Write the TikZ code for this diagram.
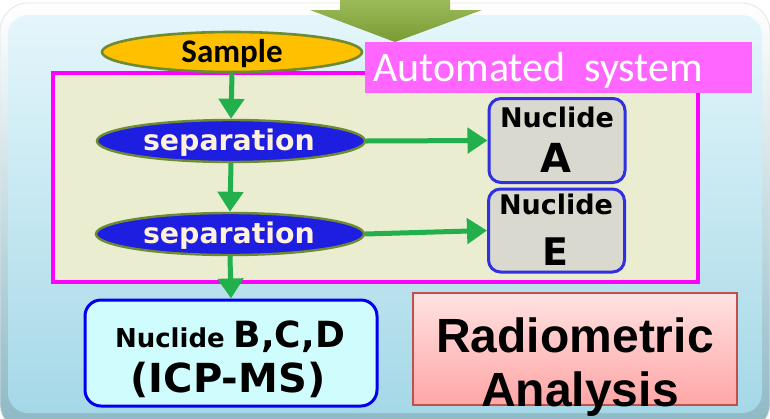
\documentclass[tikz,border=0pt]{standalone}
\usepackage{fontspec}
\usetikzlibrary{shapes.geometric,arrows.meta}
\newfontfamily\dvs{DejaVu Sans}
\newfontfamily\carl{Carlito}
\newfontfamily\lib{Liberation Sans}
\definecolor{panelTop}{HTML}{E4F6FB}
\definecolor{panelBot}{HTML}{A5D8E7}
\definecolor{flowgreen}{HTML}{22B04C}
\definecolor{olive}{HTML}{6E8B34}
\definecolor{sampleY}{HTML}{FFC000}
\definecolor{sepblue}{HTML}{1E1EE0}
\definecolor{sepText}{HTML}{FFF2DC}
\definecolor{autoBg}{HTML}{EAEDCF}
\definecolor{magentaLine}{HTML}{FF00FF}
\definecolor{labelPink}{HTML}{FF66FF}
\definecolor{nucFill}{HTML}{D9D9CF}
\definecolor{nucLine}{HTML}{3030E0}
\definecolor{icpFill}{HTML}{CFFCFC}
\definecolor{icpLine}{HTML}{0000EE}
\definecolor{radLine}{HTML}{C0504D}
\definecolor{radTop}{HTML}{FFE2E2}
\definecolor{radBot}{HTML}{FFA6A6}
\definecolor{chevTop}{HTML}{9BBB59}
\definecolor{chevBot}{HTML}{7A9A34}
\tikzset{
  flow/.style={draw=flowgreen, line width=2.5pt, -{Triangle[width=12.5pt,length=10pt]}, color=flowgreen},
  sepnode/.style={ellipse, draw=olive, line width=1.2pt, fill=sepblue, inner sep=0pt, minimum width=134pt, minimum height=21pt},
  nucbox/.style={draw=nucLine, line width=1.5pt, fill=nucFill, rounded corners=6pt, inner sep=0pt, minimum width=68pt, minimum height=42pt},
  txt/.style={inner sep=0pt, anchor=base},
}
\begin{document}
\begin{tikzpicture}[x=0.5pt,y=-0.5pt]
\useasboundingbox (0,0) rectangle (770,418);
% background panel
\path[fill=white] (0,0) rectangle (770,418);
\shade[top color=white, bottom color=panelBot!85!black, draw=gray!20, rounded corners=14pt] (0,3) rectangle (770,432);
\shade[top color=panelTop, bottom color=panelBot, rounded corners=10pt] (8,15) rectangle (762,413);
% green chevron
\shade[top color=chevTop, bottom color=chevBot] (340,0) -- (450,0) -- (450,10) -- (482,10) -- (395,42) -- (310,10) -- (340,10) -- cycle;
% automated system region
\draw[magentaLine, line width=2pt, fill=autoBg] (53,73) rectangle (698,282);
\node[fill=labelPink, inner sep=0pt, minimum width=193.5pt, minimum height=25.5pt] (lbl) at (558.5,67.5) {};
\node[txt, anchor=base west, text=white] (lbltxt) at (373,81) {\carl\fontsize{21}{24}\selectfont Automated\ \ system};
% nodes
\node[ellipse, draw=olive, line width=1.3pt, fill=sampleY, inner sep=0pt, minimum width=130pt, minimum height=20pt] (sample) at (232,52) {};
\node[txt] (sampletxt) at (232,62) {\carl\bfseries\fontsize{16.5}{19}\selectfont Sample};
\node[sepnode] (sep1) at (231,141) {};
\node[txt, text=sepText] (sep1txt) at (229,150) {\dvs\bfseries\fontsize{14.2}{16}\selectfont separation};
\node[sepnode] (sep2) at (230,234) {};
\node[txt, text=sepText] (sep2txt) at (229,243) {\dvs\bfseries\fontsize{14.2}{16}\selectfont separation};
\node[nucbox] (nucA) at (557,140.5) {};
\node[txt] (nucAt1) at (557,127) {\dvs\bfseries\fontsize{13.5}{15}\selectfont Nuclide};
\node[txt] (nucAt2) at (556,172) {\dvs\bfseries\fontsize{20}{22}\selectfont A};
\node[nucbox, minimum height=41.5pt] (nucE) at (556.5,230.5) {};
\node[txt] (nucEt1) at (556,214) {\dvs\bfseries\fontsize{13.5}{15}\selectfont Nuclide};
\node[txt] (nucEt2) at (555,265) {\dvs\bfseries\fontsize{19}{22}\selectfont E};
\node[draw=icpLine, line width=1.5pt, fill=icpFill, rounded corners=8pt, inner sep=0pt, minimum width=146pt, minimum height=53pt] (icp) at (231,353) {};
\node[txt] (icpt1) at (230,347) {\dvs\bfseries\fontsize{13}{15}\selectfont Nuclide \fontsize{18}{20}\selectfont B,C,D};
\node[txt] (icpt2) at (228,392) {\dvs\bfseries\fontsize{20}{22}\selectfont (ICP-MS)};
\node[draw=radLine, line width=0.8pt, top color=radTop, bottom color=radBot, inner sep=0pt, minimum width=162pt, minimum height=56pt] (rad) at (575,349) {};
\node[txt] (radt1) at (575,352) {\lib\bfseries\fontsize{24}{28}\selectfont Radiometric};
\node[txt] (radt2) at (580,406) {\lib\bfseries\fontsize{24}{28}\selectfont Analysis};
% connectors
\draw[flow] (sample.south) -- (sep1.north);
\draw[flow] (sep1.south) -- (sep2.north);
\draw[flow] (sep2.south) -- (icp.north);
\draw[flow] (sep1.east) -- (nucA.west);
\draw[flow] (sep2.east) -- (nucE.west);
\end{tikzpicture}
\end{document}
